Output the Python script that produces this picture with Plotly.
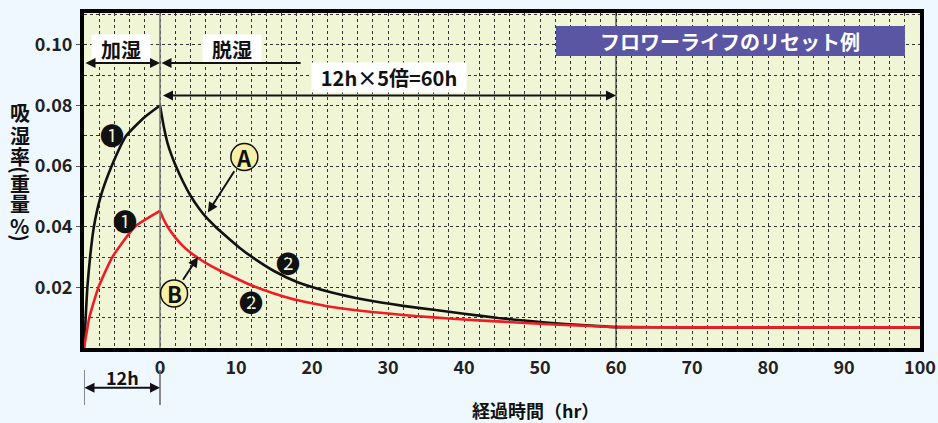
import plotly.graph_objects as go

# ---- data ----
black_rise_x = [-10, -9.78, -9.56, -9.2, -8.7, -7.8, -6.36, -4.45, -2, 0]
black_rise_y = [0, 0.010, 0.020, 0.030, 0.040, 0.050, 0.060, 0.070, 0.0762, 0.080]
red_rise_x = [-10, -9.3, -8.1, -6.27, -3.3, 0]
red_rise_y = [0, 0.010, 0.020, 0.030, 0.040, 0.0452]

black_decay_x = [0, 0.5, 1, 1.5, 2, 3, 4, 5, 6, 7.3, 9, 10.5, 12, 15, 18.2, 22.6, 27, 32, 36, 40, 44.5, 49, 53.3,
                 57.7, 60, 70, 80, 90, 100]
black_decay_y = [0.080, 0.0730, 0.0675, 0.0637, 0.0605, 0.0550, 0.0503, 0.0465, 0.0433, 0.0400, 0.0362, 0.0330,
                 0.0302, 0.0254, 0.0216, 0.0183, 0.0159, 0.0139, 0.0126, 0.0113, 0.0099, 0.0088, 0.0079, 0.0072,
                 0.0069, 0.0068, 0.0068, 0.0068, 0.0068]
red_decay_x = [0, 0.5, 1, 2, 3, 4, 5, 6, 8, 10, 12, 15, 18, 22, 27, 32, 36, 40, 45, 50, 55, 60, 70, 80, 90, 100]
red_decay_y = [0.0452, 0.0423, 0.0400, 0.0365, 0.0337, 0.0315, 0.0297, 0.0281, 0.0254, 0.0230, 0.0207, 0.0180,
               0.0158, 0.0138, 0.0121, 0.0109, 0.0101, 0.0094, 0.0087, 0.0080, 0.0074, 0.0069, 0.0068, 0.0068,
               0.0068, 0.0068]

x_ticks = [0, 10, 20, 30, 40, 50, 60, 70, 80, 90, 100]
y_ticks = [0.02, 0.04, 0.06, 0.08, 0.10]
y_ticktext = ["0.02", "0.04", "0.06", "0.08", "0.10"]

FONT = "Noto Sans CJK JP"
PLOT_BG = "#F0F5D6"
PAPER_BG = "#F0F8FF"

fig = go.Figure()
for xs, ys, col in [(black_rise_x, black_rise_y, "#111111"), (black_decay_x, black_decay_y, "#111111"),
                    (red_rise_x, red_rise_y, "#EE1C25"), (red_decay_x, red_decay_y, "#EE1C25")]:
    fig.add_trace(go.Scatter(x=xs, y=ys, mode="lines", line=dict(color=col, width=2.6, shape="spline", smoothing=0.5),
                             showlegend=False, hoverinfo="skip"))

grid = dict(gridcolor="#333333", griddash="dot", gridwidth=1)
tickfont = dict(family=FONT, size=18, color="#222222", weight="bold")
fig.update_xaxes(range=[-10, 100], tickvals=x_ticks, showgrid=True, **grid, automargin=False,
                 minor=dict(dtick=2, tick0=0, showgrid=True, gridcolor="#333333", griddash="dot", gridwidth=1),
                 showline=True, linecolor="black", linewidth=4, mirror=True, zeroline=False,
                 ticks="", tickfont=tickfont)
fig.update_yaxes(range=[0, 0.1105], tickvals=y_ticks, ticktext=y_ticktext, showgrid=True, **grid, automargin=False,
                 minor=dict(dtick=0.01, tick0=0, showgrid=True, gridcolor="#333333", griddash="dot", gridwidth=1),
                 showline=True, linecolor="black", linewidth=4, mirror=True, zeroline=False,
                 ticks="outside", ticklen=4, tickcolor="#555555", tickfont=tickfont)

shapes = []
shapes.append(dict(type="line", xref="x", yref="paper", x0=0, x1=0, y0=0, y1=1, line=dict(color="#777777", width=1.5)))
shapes.append(dict(type="line", xref="x", yref="paper", x0=60, x1=60, y0=0, y1=1, line=dict(color="#111111", width=1)))
shapes.append(dict(type="rect", xref="paper", yref="paper", x0=0.5646, x1=0.982, y0=0.8716, y1=0.961,
                   fillcolor="#5A56A3", line=dict(width=0)))
for xv in [-10, 0]:
    shapes.append(dict(type="line", xref="x", yref="paper", x0=xv, x1=xv, y0=-0.066, y1=-0.17,
                       line=dict(color="#666666", width=1.5)))
for cx, cy in [(11.1, 0.063), (1.85, 0.018)]:
    shapes.append(dict(type="circle", xref="x", yref="y", xsizemode="pixel", ysizemode="pixel",
                       xanchor=cx, yanchor=cy, x0=-13.5, x1=13.5, y0=-13.5, y1=13.5,
                       fillcolor="#F6F0A8", line=dict(color="#111111", width=1.5)))
fig.update_layout(shapes=shapes)

ann = []
tf = dict(family=FONT, color="#111111", weight="bold")
C = dict(xanchor="center", yanchor="middle", showarrow=False)
ann.append(dict(x=-5.1, y=0.0985, xref="x", yref="y", text="加湿", bgcolor="white",
                width=56, height=26, font=dict(size=20, **tf), **C))
ann.append(dict(x=9.5, y=0.0985, xref="x", yref="y", text="脱湿", bgcolor="white",
                width=56, height=26, font=dict(size=20, **tf), **C))
ann.append(dict(x=30.1, y=0.0892, xref="x", yref="y", text="12h×5倍=60h", bgcolor="white",
                width=152, height=27, font=dict(size=20, **tf), **C))
ann.append(dict(x=0.7727, y=0.9164, xref="paper", yref="paper", text="フロワーライフのリセット例",
                font=dict(family=FONT, size=20, color="white", weight="bold"), **C))
arr = dict(text="", showarrow=True, arrowhead=2, arrowsize=1, arrowwidth=2, arrowcolor="#111111",
           standoff=0, startstandoff=0, xref="x", yref="y", axref="x", ayref="y")
ann.append(dict(x=0, y=0.094, ax=-10, ay=0.094, arrowside="end+start", **arr))
ann.append(dict(x=0.2, y=0.094, ax=18.7, ay=0.094, **arr))
ann.append(dict(x=60, y=0.0833, ax=0.2, ay=0.0833, arrowside="end+start", **arr))
ann.append(dict(x=6.3, y=0.0447, ax=9.9, ay=0.0588, **arr))
ann.append(dict(x=5.0, y=0.0300, ax=2.9, ay=0.022, **arr))
ann.append(dict(x=0, y=-0.119, xref="x", yref="paper", ax=-77, ay=0, axref="pixel", ayref="pixel", text="",
                showarrow=True, arrowhead=2, arrowsize=1, arrowwidth=2, arrowcolor="#111111",
                arrowside="end+start", standoff=0, startstandoff=0))
ann.append(dict(x=-5, y=-0.088, xref="x", yref="paper", text="12h", font=dict(size=18, **tf), **C))
ann.append(dict(x=11.1, y=0.063, xref="x", yref="y", text="A", font=dict(size=22, **tf), **C))
ann.append(dict(x=1.85, y=0.018, xref="x", yref="y", text="B", font=dict(size=22, **tf), **C))
for nx, ny, t in [(-6.36, 0.0703, "❶"), (-4.6, 0.0422, "❶"), (16.9, 0.0281, "❷"), (12.0, 0.0154, "❷")]:
    ann.append(dict(x=nx, y=ny, xref="x", yref="y", text=t, font=dict(family=FONT, size=24, color="#111111"), **C))
ann.append(dict(x=0.54, y=(348 - 410) / 335, xref="paper", yref="paper", text="経過時間（hr）",
                font=dict(size=18, **tf), **C))
# vertical y-axis title, one glyph per line
ychars = ["吸", "湿", "率", "(", "重", "量", "%", ")"]
ypix = [113, 135, 156, 170, 183, 203, 225, 238]
yangle = [0, 0, 0, 90, 0, 0, 0, 90]
for ch, py, ang in zip(ychars, ypix, yangle):
    ann.append(dict(x=-0.077, y=(348 - py) / 335, xref="paper", yref="paper", text=ch, textangle=ang,
                    font=dict(size=20, **tf), **C))
fig.update_layout(annotations=ann)

fig.update_layout(width=938, height=423, margin=dict(l=84, r=18, t=13, b=75),
                  plot_bgcolor=PLOT_BG, paper_bgcolor=PAPER_BG, font=dict(family=FONT))
fig.write_html("out.html", config={"displayModeBar": False},
               post_script="document.documentElement.style.overflow='hidden';"
                           "document.body.style.margin='0';document.body.style.overflow='hidden';"
                           "document.body.style.background='#F0F8FF';")
